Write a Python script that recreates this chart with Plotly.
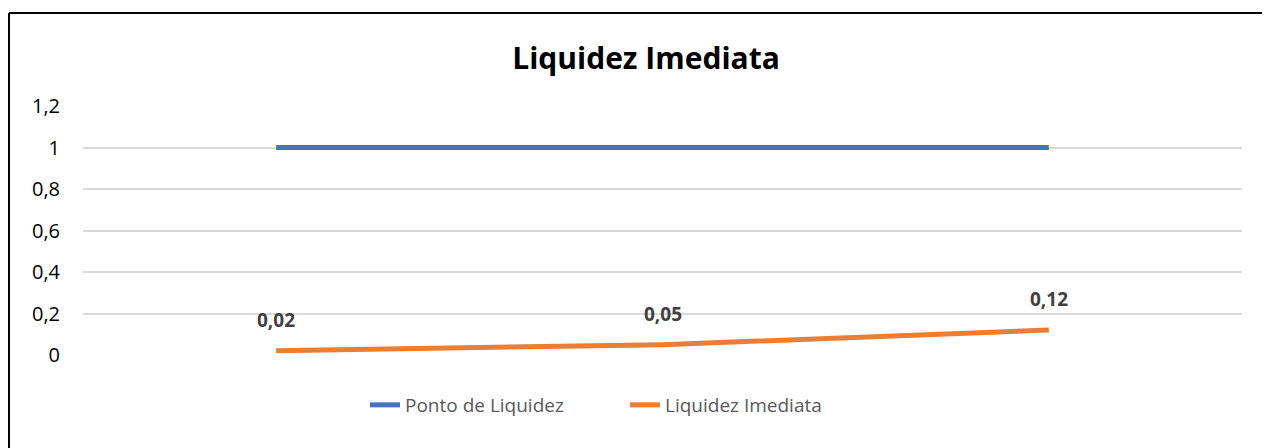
import plotly.graph_objects as go

categories = ["Período 1", "Período 2", "Período 3"]
ponto_liquidez = [1, 1, 1]
liquidez_imediata = [0.02, 0.05, 0.12]
liquidez_labels = ["0,02", "0,05", "0,12"]
y_ticks = [0, 0.2, 0.4, 0.6, 0.8, 1.0, 1.2]
y_tick_labels = ["0", "0,2", "0,4", "0,6", "0,8", "1", "1,2"]

# the page body has an 8px margin; the figure is sized so it fills the window
OFF = 8
W, H = 1270 - OFF, 448 - OFF
L, R, T, B = 83 - OFF, 28, 106 - OFF, 93

fig = go.Figure()
fig.add_trace(go.Scatter(x=categories, y=ponto_liquidez, mode="lines", name="Ponto de Liquidez",
                         line=dict(color="#4472C4", width=5), hoverinfo="skip"))
fig.add_trace(go.Scatter(x=categories, y=liquidez_imediata, mode="lines", name="Liquidez Imediata",
                         line=dict(color="#ED7D31", width=5), hoverinfo="skip"))

for c, v, t in zip(categories, liquidez_imediata, liquidez_labels):
    fig.add_annotation(x=c, y=v, text=f"<b>{t}</b>", showarrow=False, yshift=31,
                       font=dict(family="Open Sans", size=19, color="#404040"))

pw = W - L - R
ph = H - T - B
def px_x(p):  # window pixel -> paper x
    return (p - OFF - L) / pw
def px_y(p):  # window pixel -> paper y
    return (H - B - (p - OFF)) / ph

# chart-area border (left and top edges visible)
fig.add_shape(type="line", xref="paper", yref="paper", x0=px_x(9), x1=px_x(1300), y0=px_y(13), y1=px_y(13),
              line=dict(color="#000000", width=2))
fig.add_shape(type="line", xref="paper", yref="paper", x0=px_x(9), x1=px_x(9), y0=px_y(13), y1=px_y(470),
              line=dict(color="#000000", width=2))

fig.update_layout(
    width=W, height=H,
    margin=dict(l=L, r=R, t=T, b=B),
    paper_bgcolor="white", plot_bgcolor="white",
    title=dict(text="<b>Liquidez Imediata</b>", x=(646 - OFF) / W, xanchor="center",
               y=1 - (58 - OFF) / H, yanchor="middle",
               font=dict(family="Open Sans", size=30, color="#000000")),
    showlegend=True,
    legend=dict(orientation="h", x=px_x(365), xanchor="left", y=px_y(405), yanchor="middle",
                font=dict(family="Open Sans", size=19, color="#595959"),
                entrywidth=215, entrywidthmode="pixels",
                bgcolor="rgba(0,0,0,0)"),
    xaxis=dict(range=[-0.5, 2.5], showticklabels=False, showgrid=False, zeroline=False,
               showline=False, ticks=""),
    yaxis=dict(range=[0, 1.2], tickvals=y_ticks, ticktext=y_tick_labels, showgrid=True,
               gridcolor="#D9D9D9", gridwidth=1.5, zeroline=False, showline=False,
               tickfont=dict(family="Open Sans", size=20, color="#000000"), ticklabelstandoff=22),
)

fig.write_html("out.html")
